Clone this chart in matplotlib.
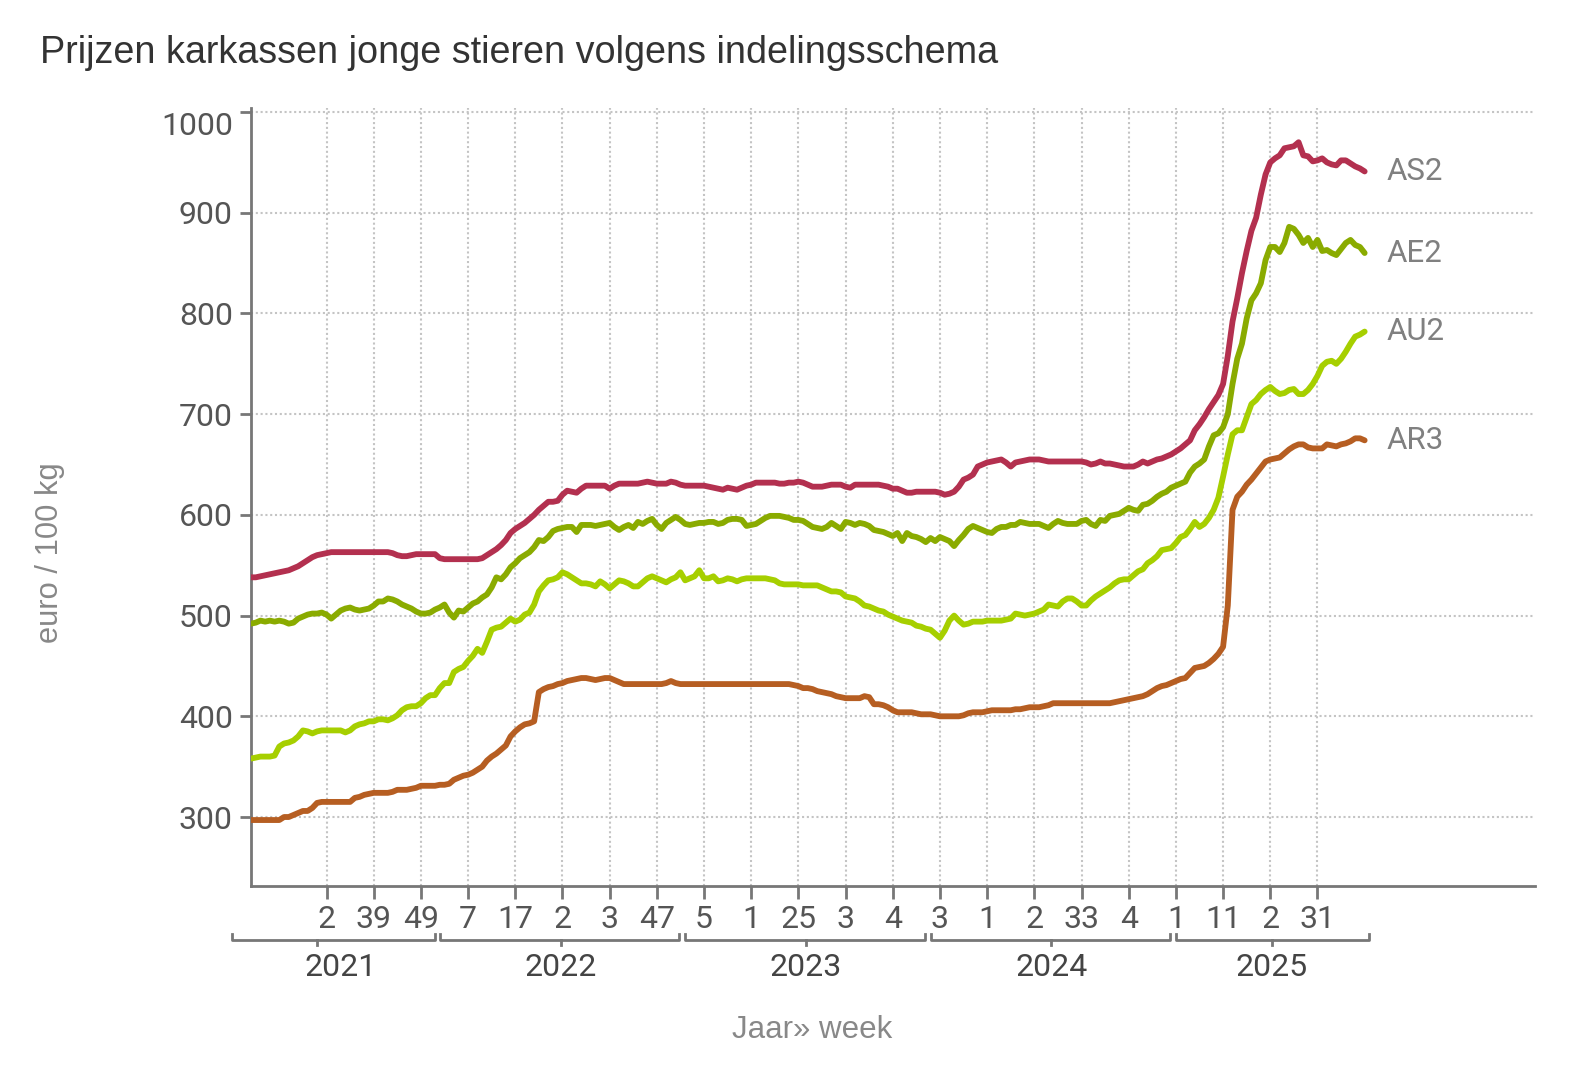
import matplotlib
matplotlib.use("Agg")
import matplotlib.pyplot as plt
import matplotlib.transforms as mtransforms

# === DATA (euro / 100 kg, weekly) ===
# weeks: 2021 w13 .. 2025 w41
weeks = ([(2021, w) for w in range(13, 53)]
         + [(y, w) for y in (2022, 2023, 2024) for w in range(1, 53)]
         + [(2025, w) for w in range(1, 42)])

as2 = [538, 538, 539, 540, 541, 542, 543, 544, 545, 547,
       549, 552, 555, 558, 560, 561, 562, 563, 563, 563,
       563, 563, 563, 563, 563, 563, 563, 563, 563, 563,
       562, 560, 559, 559, 560, 561, 561, 561, 561, 561,
       557, 556, 556, 556, 556, 556, 556, 556, 556, 557,
       560, 563, 566, 570, 575, 582, 586, 589, 592, 596,
       600, 605, 609, 613, 613, 614, 620, 624, 623, 622,
       626, 629, 629, 629, 629, 629, 626, 629, 631, 631,
       631, 631, 631, 632, 633, 632, 631, 631, 631, 633,
       632, 630, 629, 629, 629, 629, 629, 628, 627, 626,
       625, 627, 626, 625, 627, 629, 630, 632, 632, 632,
       632, 632, 631, 631, 632, 632, 633, 632, 630, 628,
       628, 628, 629, 630, 630, 630, 628, 627, 630, 630,
       630, 630, 630, 630, 629, 628, 626, 626, 624, 622,
       622, 623, 623, 623, 623, 623, 622, 620, 621, 623,
       628, 635, 637, 640, 648, 650, 652, 653, 654, 655,
       652, 648, 652, 653, 654, 655, 655, 655, 654, 653,
       653, 653, 653, 653, 653, 653, 653, 652, 650, 651,
       653, 651, 651, 650, 649, 648, 648, 648, 650, 653,
       651, 653, 655, 656, 658, 660, 663, 666, 670, 674,
       684, 690, 697, 705, 712, 719, 730, 758, 792, 815,
       840, 862, 882, 895, 918, 938, 950, 954, 957, 964,
       965, 966, 970, 957, 956, 951, 952, 954, 950, 948,
       947, 952, 952, 949, 946, 944, 941]

ae2 = [492, 493, 495, 494, 495, 494, 495, 494, 492, 493,
       497, 499, 501, 502, 502, 503, 501, 497, 501, 505,
       507, 508, 506, 505, 506, 507, 510, 514, 514, 517,
       516, 514, 511, 509, 507, 504, 502, 502, 503, 506,
       508, 511, 503, 498, 505, 504, 508, 512, 514, 518,
       521, 528, 538, 536, 541, 548, 552, 557, 560, 563,
       568, 575, 574, 578, 584, 586, 587, 588, 588, 583,
       590, 590, 590, 589, 590, 591, 592, 588, 585, 588,
       590, 587, 593, 591, 594, 596, 590, 586, 592, 595,
       598, 595, 591, 590, 591, 592, 592, 593, 593, 591,
       592, 595, 596, 596, 595, 589, 590, 591, 594, 597,
       599, 599, 599, 598, 597, 595, 595, 594, 591, 588,
       587, 586, 588, 592, 589, 586, 593, 592, 590, 592,
       591, 589, 585, 584, 583, 581, 579, 582, 574, 582,
       579, 578, 576, 573, 577, 574, 578, 576, 574, 569,
       575, 580, 586, 589, 587, 585, 583, 582, 586, 588,
       588, 590, 590, 593, 592, 591, 591, 591, 589, 587,
       591, 594, 592, 591, 591, 591, 594, 595, 591, 589,
       595, 594, 599, 600, 601, 604, 607, 605, 604, 610,
       611, 614, 618, 621, 623, 627, 629, 631, 633, 642,
       648, 651, 655, 668, 679, 681, 687, 700, 730, 755,
       770, 795, 813, 820, 830, 853, 866, 866, 861, 870,
       886, 884, 878, 870, 875, 866, 873, 862, 863, 860,
       858, 864, 870, 873, 868, 866, 860]

au2 = [358, 359, 360, 360, 360, 361, 370, 373, 374, 376,
       380, 386, 385, 383, 385, 386, 386, 386, 386, 386,
       384, 386, 390, 392, 393, 395, 395, 397, 397, 396,
       398, 401, 406, 409, 410, 410, 413, 418, 421, 421,
       428, 433, 433, 444, 447, 449, 455, 460, 467, 463,
       474, 486, 488, 489, 493, 497, 494, 496, 501, 503,
       511, 524, 530, 535, 536, 538, 543, 541, 538, 535,
       532, 532, 531, 529, 534, 531, 527, 531, 535, 534,
       532, 529, 529, 533, 537, 539, 537, 535, 533, 536,
       538, 543, 535, 537, 539, 545, 537, 537, 539, 534,
       535, 537, 536, 534, 536, 537, 537, 537, 537, 537,
       536, 535, 532, 531, 531, 531, 531, 530, 530, 530,
       530, 528, 526, 524, 524, 523, 519, 518, 517, 514,
       510, 509, 507, 505, 504, 501, 499, 497, 495, 494,
       493, 490, 489, 487, 486, 482, 478, 485, 495, 500,
       495, 491, 492, 494, 494, 494, 495, 495, 495, 495,
       496, 497, 502, 501, 500, 501, 502, 504, 506, 511,
       510, 509, 514, 517, 517, 514, 510, 510, 515, 519,
       522, 525, 528, 532, 535, 536, 536, 540, 544, 546,
       552, 555, 559, 565, 566, 567, 572, 578, 580, 586,
       593, 588, 591, 597, 605, 617, 638, 660, 680, 684,
       684, 697, 710, 714, 720, 724, 727, 723, 720, 721,
       724, 725, 720, 720, 724, 730, 738, 748, 752, 753,
       750, 755, 762, 770, 777, 779, 782]

ar3 = [297, 297, 297, 297, 297, 297, 297, 300, 300, 302,
       304, 306, 306, 309, 314, 315, 315, 315, 315, 315,
       315, 315, 319, 320, 322, 323, 324, 324, 324, 324,
       325, 327, 327, 327, 328, 329, 331, 331, 331, 331,
       332, 332, 333, 337, 339, 341, 342, 344, 347, 350,
       356, 360, 363, 367, 371, 380, 385, 389, 392, 393,
       395, 424, 427, 429, 430, 432, 433, 435, 436, 437,
       438, 438, 437, 436, 437, 438, 438, 436, 434, 432,
       432, 432, 432, 432, 432, 432, 432, 432, 433, 435,
       433, 432, 432, 432, 432, 432, 432, 432, 432, 432,
       432, 432, 432, 432, 432, 432, 432, 432, 432, 432,
       432, 432, 432, 432, 432, 431, 430, 428, 428, 427,
       425, 424, 423, 422, 420, 419, 418, 418, 418, 418,
       420, 419, 412, 412, 411, 409, 406, 404, 404, 404,
       404, 403, 402, 402, 402, 401, 400, 400, 400, 400,
       400, 401, 403, 404, 404, 404, 405, 406, 406, 406,
       406, 406, 407, 407, 408, 409, 409, 409, 410, 411,
       413, 413, 413, 413, 413, 413, 413, 413, 413, 413,
       413, 413, 413, 414, 415, 416, 417, 418, 419, 420,
       422, 425, 428, 430, 431, 433, 435, 437, 438, 443,
       448, 449, 450, 453, 457, 462, 469, 510, 605, 618,
       623, 630, 635, 641, 647, 653, 655, 656, 657, 661,
       665, 668, 670, 670, 667, 666, 666, 666, 670, 669,
       668, 670, 671, 673, 676, 676, 674]

series_names = ["AS2", "AE2", "AU2", "AR3"]
series_values = [as2, ae2, au2, ar3]
series_colors = ["#b3304f", "#8aab00", "#a6cf00", "#b65e22"]

tick_weeks = [(2021, 29), (2021, 39), (2021, 49),
              (2022, 7), (2022, 17), (2022, 27), (2022, 37), (2022, 47),
              (2023, 5), (2023, 15), (2023, 25), (2023, 35), (2023, 45),
              (2024, 3), (2024, 13), (2024, 23), (2024, 33), (2024, 43),
              (2025, 1), (2025, 11), (2025, 21), (2025, 31)]
# labels as shown in the chart (cut short by the original)
tick_labels = ["2", "39", "49", "7", "17", "2", "3", "47", "5", "1", "25",
               "3", "4", "3", "1", "2", "33", "4", "1", "11", "2", "31"]

years = ["2021", "2022", "2023", "2024", "2025"]
# bracket start, end, middle tick, label centre (category units)
year_spans = [(-4.1, 39.0, 13.9, 19.0),
              (40.1, 90.8, 65.6, 65.6),
              (92.0, 142.8, 117.6, 117.6),
              (144.0, 194.7, 169.6, 169.6),
              (196.1, 237.0, 216.3, 216.3)]

# === FIGURE ===
W, H = 1570, 1092
fig = plt.figure(figsize=(W / 100, H / 100), dpi=100)
ax = fig.add_axes([251 / W, 1 - 886 / H, (1535 - 251) / W, (886 - 108) / H])

x = list(range(len(weeks)))
for name, vals, col in zip(series_names, series_values, series_colors):
    ax.plot(x, vals, color=col, lw=4.2, solid_capstyle="round",
            solid_joinstyle="round", zorder=3)
    ax.text(x[-1] + 4.7, vals[-1], name, va="center", ha="left",
            color="#808080", fontsize=22.5, family="Roboto", clip_on=False)

ax.set_xlim(0, 272.1)
ax.set_ylim(231.5, 1004)

tick_pos = [weeks.index(tw) for tw in tick_weeks]
ax.set_xticks(tick_pos)
ax.set_xticklabels(tick_labels)
ax.set_yticks(range(300, 1001, 100))
ax.set_yticklabels([str(v) for v in range(300, 1001, 100)])

for lab in ax.get_xticklabels() + ax.get_yticklabels():
    lab.set_family("Roboto")
ax.get_yticklabels()[-1].set_verticalalignment("top")

ax.tick_params(axis="both", colors="#777777", labelcolor="#555555",
               labelsize=23, width=2)
ax.tick_params(axis="x", length=9, pad=5)
ax.tick_params(axis="y", length=8, pad=5)

ax.grid(True, color="#c4c4c4", lw=1.5, linestyle=(0, (1, 1.3)), zorder=0)
ax.set_axisbelow(True)
for side in ("top", "right"):
    ax.spines[side].set_visible(False)
for side in ("left", "bottom"):
    ax.spines[side].set_color("#777777")
    ax.spines[side].set_linewidth(2)

# year brackets under the week ticks
trans = mtransforms.blended_transform_factory(ax.transData, ax.transAxes)
y_line = (886 - 940) / 778
y_up = (886 - 934) / 778
y_down = (886 - 945) / 778
y_year = (886 - 968) / 778
for yr, (s, e, m, c) in zip(years, year_spans):
    ax.plot([s, s, e, e], [y_up, y_line, y_line, y_up], color="#777777",
            lw=2, transform=trans, clip_on=False)
    ax.plot([m, m], [y_line, y_down], color="#777777", lw=2,
            transform=trans, clip_on=False)
    ax.text(c, y_year, yr, transform=trans, ha="center", va="center",
            color="#444444", fontsize=23, family="Roboto")

fig.text(40 / W, 1 - 53 / H, "Prijzen karkassen jonge stieren volgens indelingsschema",
         ha="left", va="center", color="#333333", fontsize=27.2,
         family="Liberation Sans")
fig.text(50 / W, 1 - 553 / H, "euro / 100 kg", rotation=90, ha="center",
         va="center", color="#888888", fontsize=22.2, family="Liberation Sans")
fig.text(812 / W, 1 - 1030 / H, "Jaar» week", ha="center", va="center",
         color="#888888", fontsize=22.5, family="Liberation Sans")

fig.savefig("out.png", dpi=100, facecolor="white")
